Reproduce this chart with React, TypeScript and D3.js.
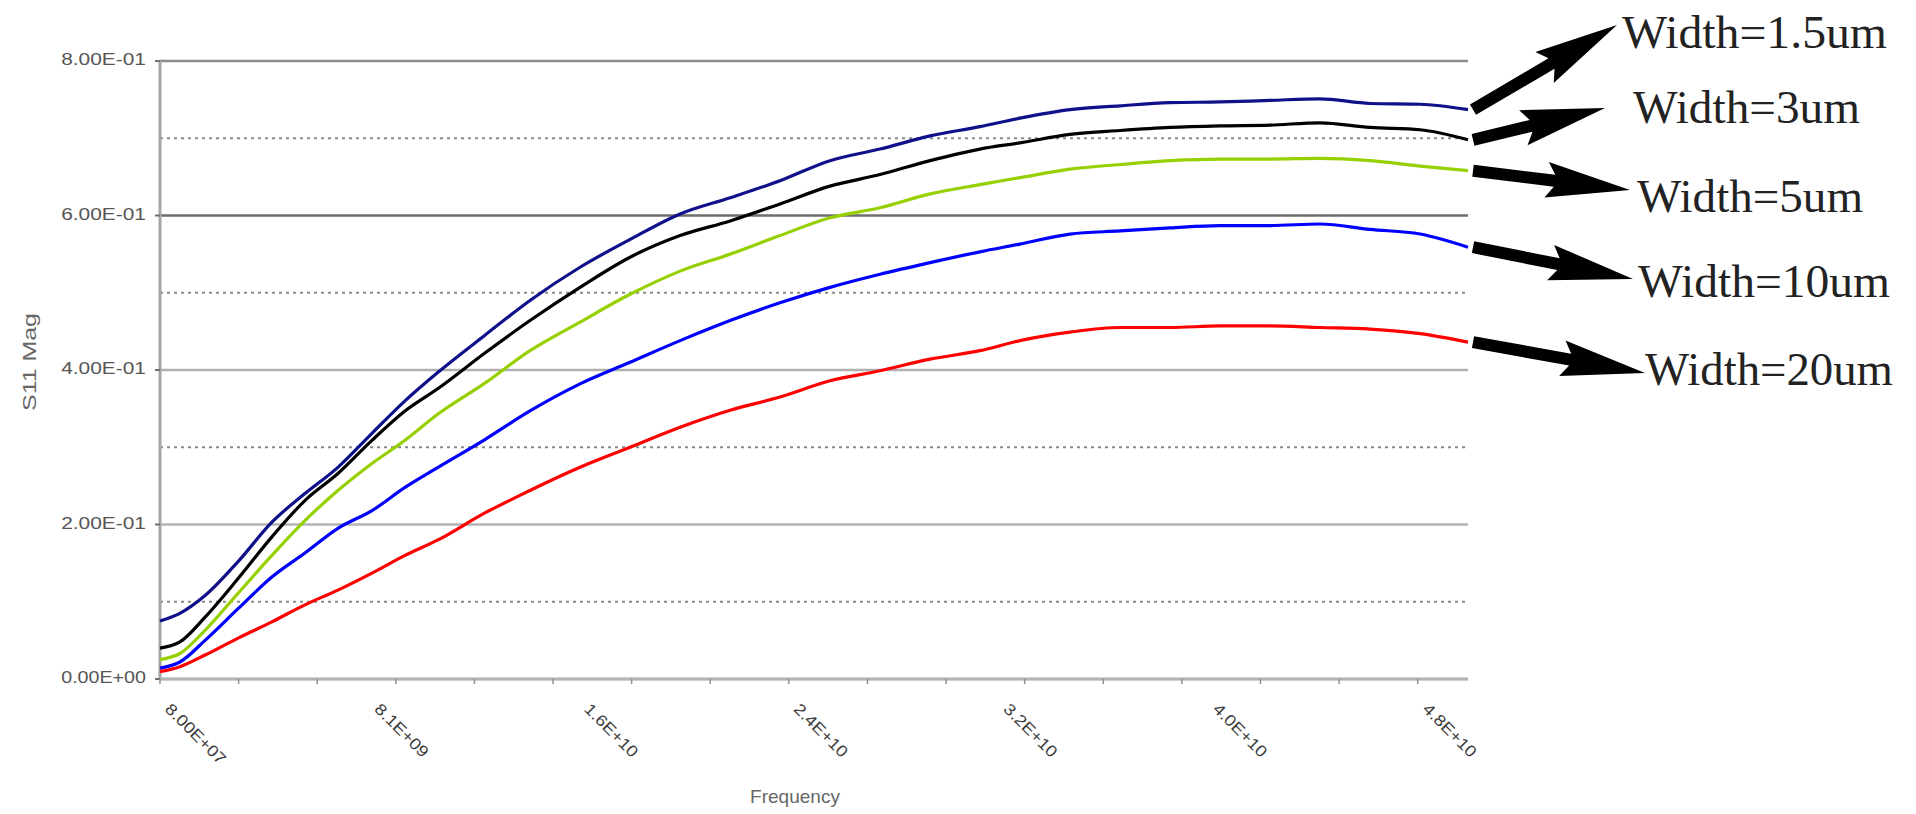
import React from "react";
import * as d3 from "d3";

// ---- data (frequency in GHz, S11 magnitude) ----
const FREQ_GHZ = [0.08, 0.84, 1.8, 3.06, 4.35, 5.61, 6.87, 8.17, 9.43, 10.69, 12.48, 14.2, 16.11, 18.02, 19.93, 21.84, 23.74, 25.65, 27.56, 29.47, 31.37, 32.9, 34.81, 36.72, 38.63, 40.53, 42.44, 44.35, 46.26, 48.17, 50.0];
const W1_5 = [0.075, 0.085, 0.108, 0.152, 0.203, 0.24, 0.274, 0.318, 0.36, 0.397, 0.445, 0.49, 0.533, 0.569, 0.602, 0.623, 0.645, 0.671, 0.686, 0.703, 0.715, 0.726, 0.737, 0.742, 0.746, 0.747, 0.749, 0.751, 0.745, 0.744, 0.737];
const W3 = [0.04, 0.048, 0.08, 0.13, 0.184, 0.231, 0.266, 0.309, 0.347, 0.376, 0.422, 0.464, 0.507, 0.546, 0.574, 0.593, 0.615, 0.638, 0.653, 0.671, 0.686, 0.694, 0.705, 0.71, 0.714, 0.716, 0.717, 0.72, 0.714, 0.711, 0.698];
const W5 = [0.025, 0.033, 0.063, 0.111, 0.16, 0.205, 0.244, 0.279, 0.309, 0.343, 0.383, 0.425, 0.462, 0.498, 0.528, 0.55, 0.574, 0.597, 0.61, 0.628, 0.64, 0.649, 0.66, 0.666, 0.671, 0.673, 0.673, 0.674, 0.671, 0.664, 0.658];
const W10 = [0.014, 0.022, 0.05, 0.091, 0.132, 0.163, 0.195, 0.218, 0.248, 0.274, 0.31, 0.347, 0.382, 0.41, 0.438, 0.464, 0.487, 0.507, 0.524, 0.539, 0.553, 0.563, 0.576, 0.58, 0.584, 0.587, 0.587, 0.589, 0.582, 0.576, 0.559];
const W20 = [0.0095, 0.016, 0.031, 0.053, 0.074, 0.096, 0.115, 0.137, 0.16, 0.18, 0.215, 0.244, 0.274, 0.3, 0.326, 0.348, 0.365, 0.386, 0.399, 0.414, 0.425, 0.438, 0.449, 0.455, 0.455, 0.457, 0.457, 0.455, 0.453, 0.447, 0.436];
const SERIES_NAMES = ["Width=1.5um", "Width=3um", "Width=5um", "Width=10um", "Width=20um"];

const Y_MAJOR = [0, 0.2, 0.4, 0.6, 0.8];
const Y_MAJOR_LABELS = ["0.00E+00", "2.00E-01", "4.00E-01", "6.00E-01", "8.00E-01"];
const Y_MINOR = [0.1, 0.3, 0.5, 0.7];
const X_LABEL_FREQS = [0.08, 8.08, 16.08, 24.08, 32.08, 40.08, 48.08];
const X_LABELS = ["8.00E+07", "8.1E+09", "1.6E+10", "2.4E+10", "3.2E+10", "4.0E+10", "4.8E+10"];
const X_TICK_STEP = 3;

// ---- styling / layout ----
const COLORS = ["#10108a", "#000000", "#96d000", "#0000ff", "#ff0000"];
const MAJOR_GRID_COLORS = ["#b0b0b0", "#b4b4b4", "#b0b0b0", "#6e6e6e", "#8c8c8c"];
const LABEL_POS = [
  { x: 1622, y: 48, tipX: 1617, tipY: 25, len: 265 },
  { x: 1633, y: 123, tipX: 1605, tipY: 108, len: 227 },
  { x: 1637, y: 212, tipX: 1630, tipY: 190, len: 226 },
  { x: 1638, y: 297, tipX: 1633, tipY: 279, len: 252 },
  { x: 1645, y: 385, tipX: 1645, tipY: 373, len: 248 },
];

const W = 1916;
const H = 814;
const PL = 160, PR = 1468, PT = 61, PB = 679;

function arrowPoints(x1: number, y1: number, x2: number, y2: number) {
  const dx = x2 - x1, dy = y2 - y1;
  const d = Math.hypot(dx, dy);
  const ux = dx / d, uy = dy / d;
  const nx = -uy, ny = ux;
  const s = 6, h = 18, L = 76, back = 8;
  const bx = x2 - ux * L, by = y2 - uy * L;
  const pts = [
    [x1 + nx * s, y1 + ny * s],
    [bx + nx * s, by + ny * s],
    [bx - ux * back + nx * h, by - uy * back + ny * h],
    [x2, y2],
    [bx - ux * back - nx * h, by - uy * back - ny * h],
    [bx - nx * s, by - ny * s],
    [x1 - nx * s, y1 - ny * s],
  ];
  return pts.map((p) => p.join(",")).join(" ");
}

export default function App() {
  const x = d3.scaleLinear().domain([0.08, 50]).range([PL, PR]);
  const y = d3.scaleLinear().domain([0, 0.8]).range([PB, PT]);
  const series = [W1_5, W3, W5, W10, W20];
  const line = d3
    .line<number>()
    .x((_, i) => x(FREQ_GHZ[i]))
    .y((v) => y(v))
    .curve(d3.curveMonotoneX);
  const xTicks = d3.range(0.08, 50, X_TICK_STEP);

  return (
    <svg
      width={W}
      height={H}
      style={{ position: "absolute", left: 0, top: 0, background: "#fff" }}
      fontFamily="Liberation Sans, Arial, sans-serif"
    >
      {/* minor dotted gridlines */}
      {Y_MINOR.map((v) => (
        <line key={"mn" + v} x1={PL} x2={PR} y1={y(v)} y2={y(v)} stroke="#8a8a8a" strokeWidth={2} strokeDasharray="3 4" />
      ))}
      {/* major gridlines */}
      {Y_MAJOR.map((v, i) => (
        <line key={"mj" + v} x1={PL} x2={PR} y1={y(v)} y2={y(v)} stroke={MAJOR_GRID_COLORS[i]} strokeWidth={2.5} />
      ))}
      {/* axes */}
      <line x1={PL} x2={PL} y1={PT} y2={PB} stroke="#a6a6a6" strokeWidth={3} />
      <line x1={PL} x2={PR} y1={PB} y2={PB} stroke="#b4b4b4" strokeWidth={3} />
      {Y_MAJOR.map((v) => (
        <line key={"yt" + v} x1={PL - 5} x2={PL} y1={y(v)} y2={y(v)} stroke="#707070" strokeWidth={2} />
      ))}
      {xTicks.map((f) => (
        <line key={"xt" + f} x1={x(f)} x2={x(f)} y1={PB} y2={PB + 5} stroke="#909090" strokeWidth={1.5} />
      ))}
      {/* y tick labels */}
      {Y_MAJOR.map((v, i) => (
        <text
          key={"yl" + v}
          x={146}
          y={y(v)}
          textAnchor="end"
          dominantBaseline="middle"
          fontSize={16}
          fill="#555"
          textLength={Y_MAJOR_LABELS[i].length * 10.6}
          lengthAdjust="spacingAndGlyphs"
        >
          {Y_MAJOR_LABELS[i]}
        </text>
      ))}
      {/* x tick labels (rotated) */}
      {X_LABEL_FREQS.map((f, i) => (
        <text
          key={"xl" + f}
          transform={`translate(${x(f) + 4},${PB + 31}) rotate(45)`}
          fontSize={16}
          fill="#3a3a3a"
          textLength={X_LABELS[i].length * 9.8}
          lengthAdjust="spacingAndGlyphs"
        >
          {X_LABELS[i]}
        </text>
      ))}
      {/* axis titles */}
      <text x={795} y={803} textAnchor="middle" fontSize={19} fill="#666">
        Frequency
      </text>
      <text
        transform={`translate(36,362) rotate(-90)`}
        textAnchor="middle"
        fontSize={19}
        fill="#666"
        textLength={98}
        lengthAdjust="spacingAndGlyphs"
      >
        S11 Mag
      </text>
      {/* curves */}
      {series.map((s, i) => (
        <path key={"s" + i} d={line(s) || ""} fill="none" stroke={COLORS[i]} strokeWidth={3.2} strokeLinejoin="round" />
      ))}
      {/* annotations */}
      {series.map((s, i) => {
        const tx = x(FREQ_GHZ[FREQ_GHZ.length - 1]) + 5;
        const ty = y(s[s.length - 1]);
        const lp = LABEL_POS[i];
        return (
          <g key={"a" + i}>
            <polygon points={arrowPoints(tx, ty, lp.tipX, lp.tipY)} fill="#000" />
            <text
              x={lp.x}
              y={lp.y}
              fontFamily="Liberation Serif, Times New Roman, serif"
              fontSize={46}
              fill="#222"
              textLength={lp.len}
              lengthAdjust="spacingAndGlyphs"
            >
              {SERIES_NAMES[i]}
            </text>
          </g>
        );
      })}
    </svg>
  );
}
